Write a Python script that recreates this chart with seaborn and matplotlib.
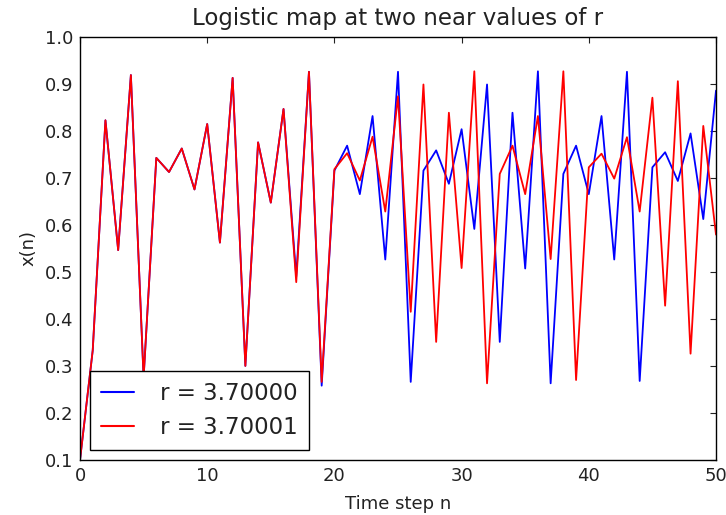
import matplotlib
matplotlib.use("Agg")
import matplotlib.pyplot as plt
import pandas as pd
import seaborn as sns

steps = list(range(51))
x_r370000 = [0.100, 0.333, 0.822, 0.546, 0.918, 0.275, 0.742, 0.712, 0.762, 0.675,
             0.814, 0.562, 0.912, 0.300, 0.775, 0.647, 0.846, 0.490, 0.925, 0.258,
             0.715, 0.768, 0.665, 0.831, 0.526, 0.925, 0.266, 0.715, 0.758, 0.687,
             0.803, 0.591, 0.898, 0.351, 0.838, 0.507, 0.926, 0.263, 0.708, 0.768,
             0.665, 0.831, 0.526, 0.925, 0.268, 0.722, 0.754, 0.693, 0.794, 0.612,
             0.885]
x_r370001 = [0.100, 0.333, 0.822, 0.546, 0.918, 0.275, 0.742, 0.712, 0.762, 0.675,
             0.814, 0.562, 0.912, 0.300, 0.775, 0.647, 0.846, 0.478, 0.925, 0.266,
             0.718, 0.752, 0.694, 0.787, 0.628, 0.873, 0.415, 0.898, 0.351, 0.838,
             0.508, 0.926, 0.263, 0.708, 0.768, 0.665, 0.831, 0.527, 0.926, 0.270,
             0.722, 0.751, 0.698, 0.786, 0.628, 0.870, 0.428, 0.905, 0.326, 0.810,
             0.579]
labels = ["r = 3.70000", "r = 3.70001"]
colors = ["#0000ff", "#ff0000"]

df = pd.DataFrame({
    "n": steps + steps,
    "x": x_r370000 + x_r370001,
    "r": [labels[0]] * len(steps) + [labels[1]] * len(steps),
})

sns.set_theme(style="white")
plt.rcParams["font.family"] = ["DejaVu Sans"]
plt.rcParams.update({
    "axes.edgecolor": "black",
    "axes.linewidth": 1.0,
    "xtick.direction": "in",
    "ytick.direction": "in",
    "xtick.top": True,
    "ytick.right": True,
    "xtick.major.size": 4,
    "ytick.major.size": 4,
    "xtick.color": "#222222",
    "ytick.color": "#222222",
    "text.color": "#222222",
    "axes.labelcolor": "#222222",
})

fig = plt.figure(figsize=(7.26, 5.15), dpi=100, facecolor="white")
ax = fig.add_axes([80 / 726, 1 - 460 / 515, 636 / 726, (460 - 36.5) / 515])

sns.lineplot(data=df, x="n", y="x", hue="r", palette=colors, linewidth=1.3,
             ax=ax, legend=True)

ax.set_xlim(0, 50)
ax.set_ylim(0.1, 1.0)
ax.set_xticks([0, 10, 20, 30, 40, 50])
ax.set_yticks([0.1, 0.2, 0.3, 0.4, 0.5, 0.6, 0.7, 0.8, 0.9, 1.0])
ax.tick_params(labelsize=13, width=0.8, pad=5)
ax.set_xlabel("Time step n", fontsize=13, labelpad=7)
ax.set_ylabel("x(n)", fontsize=13, labelpad=5)
ax.set_title("Logistic map at two near values of r", fontsize=16.5, pad=8)

handles, labs = ax.get_legend_handles_labels()
leg = ax.legend(handles, labs, loc="lower left", fontsize=16.5, handlelength=1.45,
                handletextpad=1.15, borderpad=0.46, labelspacing=0.5,
                borderaxespad=0.45, fancybox=False, framealpha=1.0,
                edgecolor="black")
leg.get_frame().set_linewidth(1.0)
for line in leg.get_lines():
    line.set_linewidth(1.5)

fig.savefig("out.png", dpi=100, facecolor="white")
